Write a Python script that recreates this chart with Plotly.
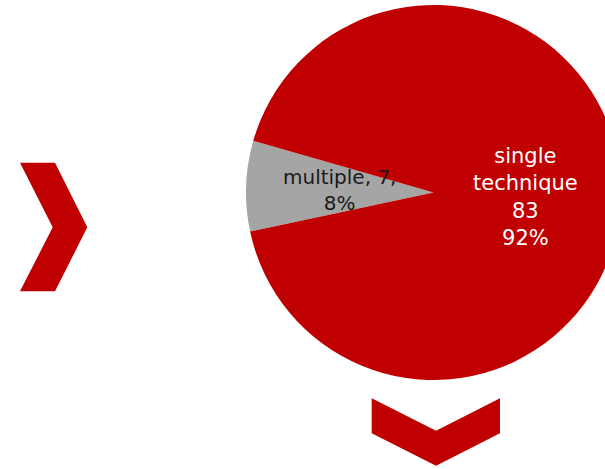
import plotly.graph_objects as go

# Data
labels = ["multiple", "single technique"]
values = [7, 83]
colors = ["#A5A5A5", "#C00000"]

W, H = 640, 469  # figure wider than window so the pie is clipped on the right
FONT = "DejaVu Sans, sans-serif"

total = sum(values)
pcts = [round(v * 100 / total) for v in values]

fig = go.Figure()
fig.add_trace(go.Pie(
    labels=labels,
    values=values,
    sort=False,
    direction="clockwise",
    rotation=258,
    marker=dict(colors=colors, line=dict(width=0)),
    textinfo="none",
    hoverinfo="label+value+percent",
    showlegend=False,
    domain=dict(x=[246 / W, 621 / W], y=[(H - 380) / H, (H - 5) / H]),
))

def px(x):
    return x / W

def py(y):
    return (H - y) / H

# slice labels
fig.add_annotation(
    x=px(339), y=py(190), xref="paper", yref="paper", showarrow=False,
    xanchor="center", yanchor="middle",
    text=f"{labels[0]}, {values[0]},<br>{pcts[0]}%",
    font=dict(family=FONT, size=20, color="#1a1a1a"), align="center",
)
fig.add_annotation(
    x=px(525), y=py(197), xref="paper", yref="paper", showarrow=False,
    xanchor="center", yanchor="middle",
    text="single<br>technique<br>" + f"{values[1]}<br>{pcts[1]}%",
    font=dict(family=FONT, size=21, color="white"), align="center",
)

# decorative chevrons
red = "#C00000"
fig.add_shape(type="path", xref="paper", yref="paper",
              path=f"M {px(20)} {py(162.7)} L {px(55)} {py(162.7)} L {px(87.3)} {py(227.3)} "
                   f"L {px(55)} {py(291.3)} L {px(20)} {py(291.3)} L {px(52.7)} {py(227.3)} Z",
              fillcolor=red, line=dict(width=0))
fig.add_shape(type="path", xref="paper", yref="paper",
              path=f"M {px(371.7)} {py(398.3)} L {px(436)} {py(430.7)} L {px(500)} {py(398.3)} "
                   f"L {px(500)} {py(433.3)} L {px(436)} {py(465.7)} L {px(371.7)} {py(433.3)} Z",
              fillcolor=red, line=dict(width=0))

fig.update_layout(
    width=W, height=H,
    margin=dict(l=0, r=0, t=0, b=0),
    paper_bgcolor="white", plot_bgcolor="white",
    font=dict(family=FONT),
)

fig.write_html(
    "out.html",
    config={"displayModeBar": False},
    post_script="document.documentElement.style.overflow='hidden';document.body.style.overflow='hidden';document.body.style.margin='0';",
)
